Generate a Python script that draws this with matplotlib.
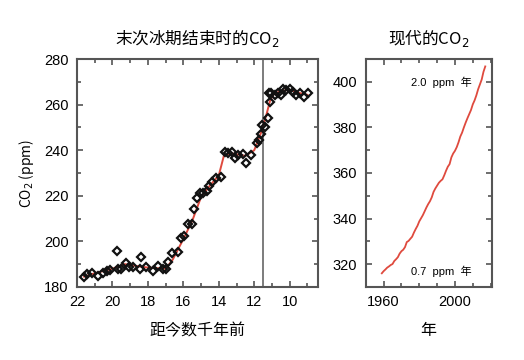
import numpy as np
import matplotlib
matplotlib.use("Agg")
import matplotlib.pyplot as plt
from matplotlib.ticker import MultipleLocator

plt.rcParams['font.family'] = ['Liberation Sans', 'Noto Sans CJK SC', 'DejaVu Sans']
plt.rcParams['mathtext.fontset'] = 'dejavusans'

# ice core CO2 at the end of the last glacial (kyr before present, ppm)
ice_kyr = [21.6, 21.42, 21.17, 20.8, 20.52, 20.33, 20.14, 19.76, 19.7, 19.52,
           19.26, 19.05, 18.83, 18.45, 18.41, 18.11, 17.74, 17.42, 17.14, 16.99,
           16.84, 16.63, 16.33, 16.14, 15.95, 15.73, 15.54, 15.39, 15.22, 15.07,
           14.92, 14.69, 14.55, 14.36, 14.17, 13.9, 13.66, 13.48, 13.23, 13.1,
           12.91, 12.66, 12.44, 12.16, 11.84, 11.71, 11.6, 11.54, 11.41, 11.22,
           11.18, 11.13, 11.03, 10.81, 10.66, 10.51, 10.38, 10.19, 10.0, 9.81,
           9.62, 9.44, 9.2, 8.97]
ice_co2 = [184.5, 185.7, 186.3, 184.8, 186.3, 186.9, 187.5, 195.9, 187.9, 187.9,
           190.4, 188.9, 188.6, 187.9, 193.0, 188.9, 187.0, 189.2, 188.0, 188.0,
           191.1, 194.8, 195.5, 201.4, 202.4, 207.6, 207.5, 214.1, 218.9, 221.1,
           221.4, 222.2, 224.3, 226.2, 227.7, 228.1, 239.1, 238.9, 239.3, 236.4,
           237.9, 238.2, 234.5, 237.9, 243.0, 244.5, 247.0, 251.0, 250.3, 254.0,
           265.0, 261.3, 265.0, 264.2, 265.0, 264.2, 266.7, 266.4, 266.7, 265.7,
           264.2, 265.0, 263.5, 265.0]

# smoothed trend (red line)
trend_kyr = [21.6, 21.0, 20.0, 19.3, 18.5, 18.0, 17.0, 16.6, 16.0, 15.5, 15.0,
             14.5, 14.0, 13.7, 13.2, 12.5, 12.0, 11.6, 11.3, 11.1, 10.9, 10.5,
             10.0, 9.5, 9.0]
trend_co2 = [184.5, 186.0, 188.0, 190.0, 189.0, 188.5, 188.0, 192.0, 201.0,
             209.0, 219.5, 224.5, 229.0, 238.0, 238.5, 237.5, 240.0, 248.0,
             256.0, 262.0, 264.5, 266.0, 266.5, 265.2, 264.3]

# modern CO2 (year, ppm)
years = list(range(1959, 2018))
modern_co2 = [315.98, 316.91, 317.64, 318.45, 318.99, 319.62, 320.04, 321.38,
              322.16, 323.04, 324.62, 325.68, 326.32, 327.46, 329.68, 330.19,
              331.13, 332.03, 333.84, 335.41, 336.84, 338.76, 340.12, 341.48,
              343.15, 344.85, 346.35, 347.61, 349.31, 351.69, 353.20, 354.45,
              355.70, 356.54, 357.21, 358.96, 360.97, 362.74, 363.88, 366.84,
              368.54, 369.71, 371.32, 373.45, 375.98, 377.70, 379.98, 382.09,
              384.02, 385.83, 387.64, 390.10, 391.85, 394.06, 396.74, 398.87,
              401.01, 404.41, 406.76]

red = '#df4a3e'
spine_col = '#555555'

fig = plt.figure(figsize=(5.24, 3.6), dpi=100)
ax1 = fig.add_axes([0.147, 0.203, 0.46, 0.633])
ax2 = fig.add_axes([0.698, 0.203, 0.240, 0.633])

ax1.plot(trend_kyr, trend_co2, color=red, lw=1.4, zorder=2)
ax1.plot(ice_kyr, ice_co2, 'D', ms=4, mfc='none', mec='#111111', mew=1.6, zorder=3)
ax1.axvline(11.5, color='#666666', lw=1.2, zorder=1)
ax1.set_xlim(22, 8.4)
ax1.set_ylim(180, 280)
ax1.xaxis.set_major_locator(MultipleLocator(2))
ax1.xaxis.set_minor_locator(MultipleLocator(1))
ax1.yaxis.set_major_locator(MultipleLocator(20))
ax1.yaxis.set_minor_locator(MultipleLocator(10))
ax1.set_title('末次冰期结束时的CO$_2$', fontsize=12, pad=11,
              family=['Noto Sans CJK SC', 'DejaVu Sans'])
ax1.set_xlabel('距今数千年前', fontsize=11.5, labelpad=10)
ax1.set_ylabel('CO$_2$ (ppm)', fontsize=10, labelpad=6,
               family=['Noto Sans CJK SC', 'DejaVu Sans'])

ax2.plot(years, modern_co2, color=red, lw=1.3)
ax2.set_xlim(1950, 2020.5)
ax2.set_ylim(310, 410)
ax2.xaxis.set_major_locator(MultipleLocator(40))
ax2.xaxis.set_minor_locator(MultipleLocator(10))
ax2.yaxis.set_major_locator(MultipleLocator(20))
ax2.yaxis.set_minor_locator(MultipleLocator(10))
ax2.set_title('现代的CO$_2$', fontsize=12, pad=11,
              family=['Noto Sans CJK SC', 'DejaVu Sans'])
ax2.set_xlabel('年', fontsize=11.5, labelpad=10)
ax2.text(0.6, 0.9, '2.0  ppm  年', transform=ax2.transAxes, fontsize=8,
         ha='center', va='center')
ax2.text(0.6, 0.07, '0.7  ppm  年', transform=ax2.transAxes, fontsize=8,
         ha='center', va='center')

for ax in (ax1, ax2):
    for s in ax.spines.values():
        s.set_color(spine_col)
        s.set_linewidth(1.5)
    ax.tick_params(which='both', direction='in', top=True, right=True,
                   color=spine_col, labelsize=10.5)
    ax.tick_params(which='major', length=4, width=1.2, pad=6)
    ax.tick_params(which='minor', length=3, width=1.2)

fig.savefig('out.png', dpi=100, facecolor='white')
